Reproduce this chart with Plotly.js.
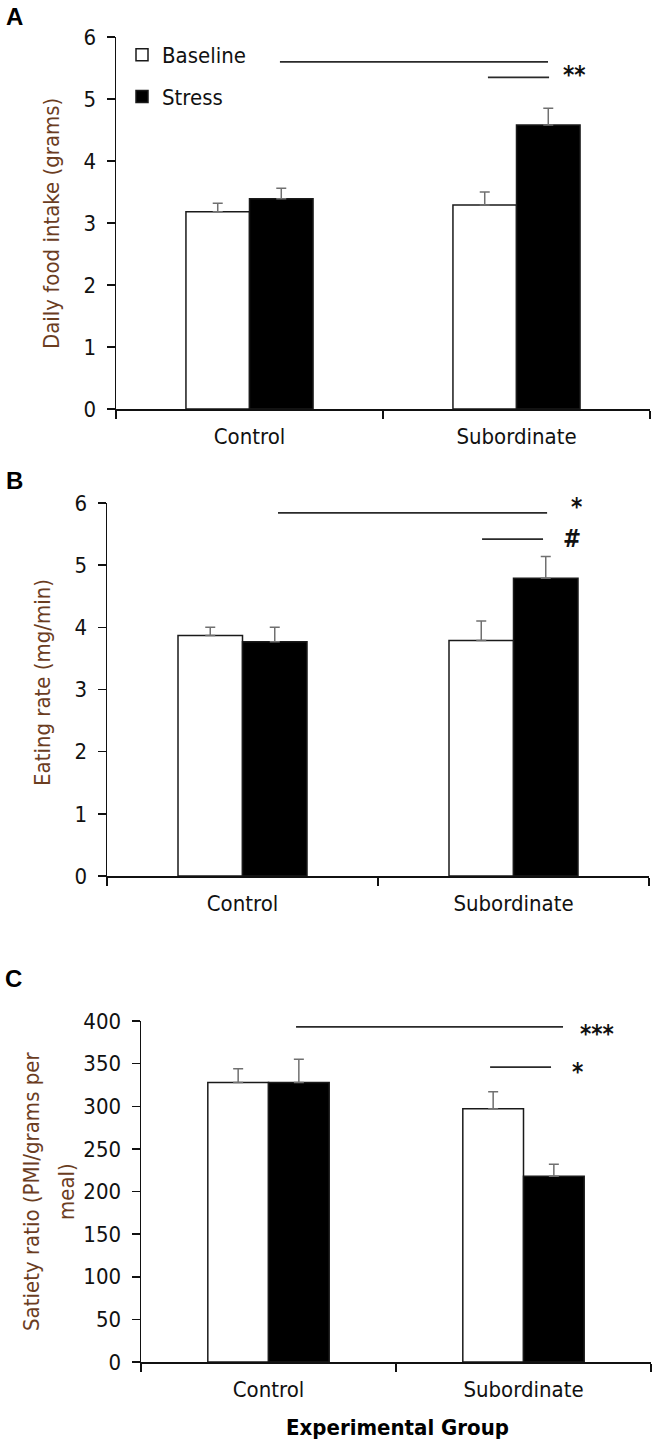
<!DOCTYPE html>
<html>
<head>
<meta charset="utf-8">
<script src="https://cdn.plot.ly/plotly-3.0.1.min.js"></script>
<style>
  body { margin: 0; background: #fff; }
  #chart { width: 655px; height: 1443px; }
</style>
</head>
<body>
<div id="chart"></div>
<script>
// values
var groups = ['Control', 'Subordinate'];

var intakeBaseline = [3.18, 3.29];
var intakeBaselineErr = [0.14, 0.21];
var intakeStress = [3.39, 4.58];
var intakeStressErr = [0.17, 0.27];

var rateBaseline = [3.87, 3.79];
var rateBaselineErr = [0.13, 0.31];
var rateStress = [3.77, 4.79];
var rateStressErr = [0.23, 0.35];

var satietyBaseline = [328, 297];
var satietyBaselineErr = [16, 20];
var satietyStress = [328, 218];
var satietyStressErr = [27, 14];

var FONT = 'DejaVu Sans Condensed, DejaVu Sans, Verdana, sans-serif';
var TITLE_COLOR = '#6b3d1f';
var W = 655, H = 1443;

function px(x) { return x / W; }
function py(y) { return 1 - y / H; }

function barTrace(name, y, err, fill, xa, ya, showlegend) {
    return {
        type: 'bar',
        name: name,
        x: groups,
        y: y,
        xaxis: xa,
        yaxis: ya,
        legendgroup: name,
        showlegend: showlegend,
        marker: { color: fill, line: { color: '#1a1a1a', width: 1.5 } },
        error_y: {
            type: 'data',
            symmetric: false,
            array: err,
            arrayminus: [0, 0],
            color: '#707070',
            thickness: 1.5,
            width: 5
        },
        hoverinfo: 'skip'
    };
}

var data = [
    barTrace('Baseline', intakeBaseline, intakeBaselineErr, '#ffffff', 'x', 'y', true),
    barTrace('Stress', intakeStress, intakeStressErr, '#000000', 'x', 'y', true),
    barTrace('Baseline', rateBaseline, rateBaselineErr, '#ffffff', 'x2', 'y2', false),
    barTrace('Stress', rateStress, rateStressErr, '#000000', 'x2', 'y2', false),
    barTrace('Baseline', satietyBaseline, satietyBaselineErr, '#ffffff', 'x3', 'y3', false),
    barTrace('Stress', satietyStress, satietyStressErr, '#000000', 'x3', 'y3', false)
];

function xAxis(left, right, anchor) {
    return {
        domain: [px(left), px(right)],
        anchor: anchor,
        type: 'category',
        range: [-0.5, 1.5],
        showline: true,
        linecolor: '#111',
        linewidth: 1.5,
        showgrid: false,
        zeroline: false,
        ticks: 'outside',
        tickson: 'boundaries',
        ticklen: 8,
        tickwidth: 1.5,
        tickcolor: '#111',
        ticklabelstandoff: 7,
        tickfont: { family: FONT, size: 22, color: '#111' },
        fixedrange: true
    };
}

function yAxis(top, bottom, anchor, max, step) {
    return {
        domain: [py(bottom), py(top)],
        anchor: anchor,
        range: [0, max],
        tick0: 0,
        dtick: step,
        showline: true,
        linecolor: '#111',
        linewidth: 1.5,
        showgrid: false,
        zeroline: false,
        ticks: 'outside',
        ticklen: 8,
        tickwidth: 1.5,
        tickcolor: '#111',
        ticklabelstandoff: 6,
        tickfont: { family: FONT, size: 22, color: '#111' },
        fixedrange: true
    };
}

// significance brackets: [xref, yref, x0, x1, level]
var brackets = [
    ['x', 'y', 0.114, 1.118, 5.6],
    ['x', 'y', 0.893, 1.122, 5.35],
    ['x2', 'y2', 0.131, 1.124, 5.84],
    ['x2', 'y2', 0.884, 1.109, 5.42],
    ['x3', 'y3', 0.108, 1.155, 393],
    ['x3', 'y3', 0.869, 1.108, 346]
];

// significance marks: [xref, yref, x, y, text, yanchor]
var marks = [
    ['x', 'y', 1.219, 5.38, '**', 'middle'],
    ['x2', 'y2', 1.234, 5.68, '*', 'bottom'],
    ['x2', 'y2', 1.216, 5.68, '#', 'top'],
    ['x3', 'y3', 1.288, 385, '***', 'middle'],
    ['x3', 'y3', 1.210, 340, '*', 'middle']
];

var shapes = brackets.map(function (b) {
    return {
        type: 'line', xref: b[0], yref: b[1],
        x0: b[2], x1: b[3], y0: b[4], y1: b[4],
        line: { color: '#2a2a2a', width: 1.8 }
    };
});

var annotations = marks.map(function (m) {
    return {
        xref: m[0], yref: m[1], x: m[2], y: m[3],
        text: '<b>' + m[4] + '</b>', showarrow: false,
        xanchor: 'center', yanchor: m[5],
        font: { family: FONT, size: 24, color: '#111' }
    };
});

// panel letters
[['A', 14, 17], ['B', 14, 481], ['C', 13, 978]].forEach(function (p) {
    annotations.push({
        xref: 'paper', yref: 'paper', x: px(p[1]), y: py(p[2]),
        text: '<b>' + p[0] + '</b>', showarrow: false,
        xanchor: 'center', yanchor: 'middle',
        font: { family: 'Liberation Sans, Arial, sans-serif', size: 24, color: '#000' }
    });
});

// axis titles
[
    ['Daily food intake (grams)', 52, 224],
    ['Eating rate (mg/min)', 42, 683],
    ['Satiety ratio (PMI/grams per', 31, 1192],
    ['meal)', 66, 1192]
].forEach(function (t) {
    annotations.push({
        xref: 'paper', yref: 'paper', x: px(t[1]), y: py(t[2]),
        text: t[0], showarrow: false, textangle: -90,
        xanchor: 'center', yanchor: 'middle',
        font: { family: FONT, size: 22, color: TITLE_COLOR }
    });
});

annotations.push({
    xref: 'paper', yref: 'paper', x: px(397), y: py(1427),
    text: '<b>Experimental Group</b>', showarrow: false,
    xanchor: 'center', yanchor: 'middle',
    font: { family: FONT, size: 22, color: '#000' }
});

var layout = {
    width: W,
    height: H,
    margin: { l: 0, r: 0, t: 0, b: 0 },
    paper_bgcolor: '#fff',
    plot_bgcolor: '#fff',
    barmode: 'group',
    bargap: 0.524,
    bargroupgap: 0,
    showlegend: true,
    legend: {
        x: px(122),
        y: py(34),
        xanchor: 'left',
        yanchor: 'top',
        bgcolor: 'rgba(0,0,0,0)',
        tracegroupgap: 10,
        font: { family: FONT, size: 22, color: '#111' }
    },
    xaxis: xAxis(116, 650, 'y'),
    yaxis: yAxis(37, 409, 'x', 6, 1),
    xaxis2: xAxis(107, 649, 'y2'),
    yaxis2: yAxis(503, 876, 'x2', 6, 1),
    xaxis3: xAxis(141, 651, 'y3'),
    yaxis3: yAxis(1021, 1362, 'x3', 400, 50),
    shapes: shapes,
    annotations: annotations
};

Plotly.newPlot('chart', data, layout, { displayModeBar: false, staticPlot: true });
</script>
</body>
</html>
